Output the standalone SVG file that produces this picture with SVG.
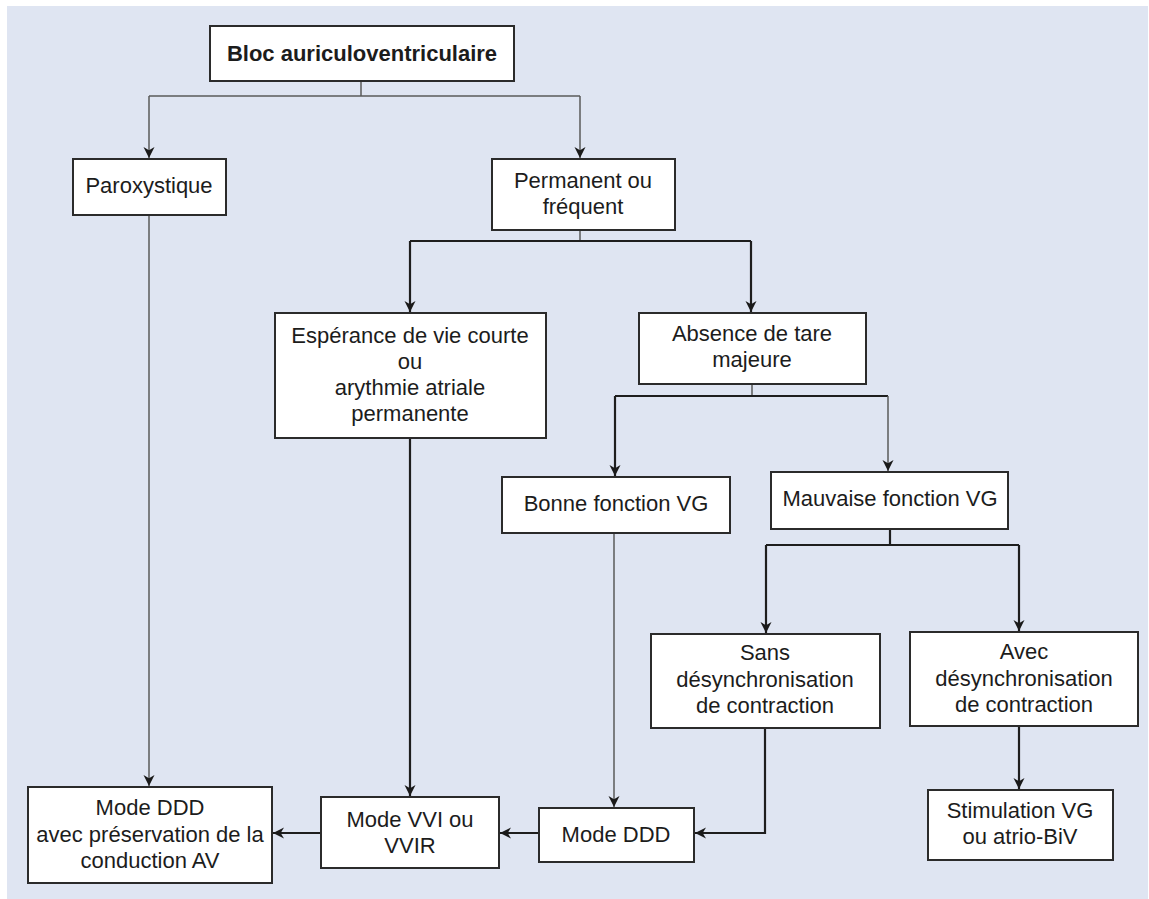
<svg xmlns="http://www.w3.org/2000/svg" width="1149" height="899" viewBox="0 0 1149 899">
<defs>
<style>
.box{fill:#ffffff;stroke:#2b2b2b;stroke-width:2}
text{font-family:"Liberation Sans",Arial,Helvetica,sans-serif;font-size:22px;fill:#1c1c1c;text-anchor:middle}
.b{font-weight:bold}
.g{fill:none;stroke:#5a5a5a;stroke-width:1.5}
.k{fill:none;stroke:#1e1e1e;stroke-width:2.2}
</style>
<marker id="ah" viewBox="0 0 10 10" refX="10" refY="5" markerWidth="11" markerHeight="12" markerUnits="userSpaceOnUse" orient="auto">
<path d="M0,0 L10,5 L0,10 L3,5 z" fill="#1a1a1a"/>
</marker>
</defs>
<rect x="7" y="6" width="1141" height="893" fill="#dfe5f2"/>

<g id="connectors">
<path class="g" d="M361,81 V96"/>
<path class="g" d="M149,96 H580"/>
<path class="g" d="M149,96 V158" marker-end="url(#ah)"/>
<path class="g" d="M580,96 V158" marker-end="url(#ah)"/>
<path class="g" d="M149,215 V786" marker-end="url(#ah)"/>
<path class="g" d="M580,230 V241"/>
<path class="k" d="M410,241 H751"/>
<path class="k" d="M410,241 V312" marker-end="url(#ah)"/>
<path class="k" d="M751,241 V312" marker-end="url(#ah)"/>
<path class="k" d="M410,438 V796" marker-end="url(#ah)"/>
<path class="g" d="M752,384 V396"/>
<path class="k" d="M615,396 H888"/>
<path class="k" d="M615,396 V476" marker-end="url(#ah)"/>
<path class="g" d="M888,396 V471" marker-end="url(#ah)"/>
<path class="g" d="M614,533 V807" marker-end="url(#ah)"/>
<path class="k" d="M890,529 V545"/>
<path class="k" d="M766,545 H1019"/>
<path class="k" d="M766,545 V633" marker-end="url(#ah)"/>
<path class="k" d="M1019,545 V631" marker-end="url(#ah)"/>
<path class="k" d="M1019,726 V789" marker-end="url(#ah)"/>
<path class="k" d="M765,728 V833 H695" marker-end="url(#ah)"/>
<path class="k" d="M539,833 H500" marker-end="url(#ah)"/>
<path class="k" d="M321,833 H273" marker-end="url(#ah)"/>
</g>

<g id="n-bloc">
<rect class="box" x="210" y="26" width="304" height="55"/>
<text class="b" x="362" y="61">Bloc auriculoventriculaire</text>
</g>
<g id="n-parox">
<rect class="box" x="73" y="159" width="153" height="56"/>
<text x="149" y="193">Paroxystique</text>
</g>
<g id="n-perm">
<rect class="box" x="492" y="159" width="183" height="71"/>
<text x="583" y="188">Permanent ou</text>
<text x="583" y="214">fréquent</text>
</g>
<g id="n-esp">
<rect class="box" x="275" y="313" width="271" height="125"/>
<text x="410" y="343">Espérance de vie courte</text>
<text x="410" y="369">ou</text>
<text x="410" y="395">arythmie atriale</text>
<text x="410" y="421">permanente</text>
</g>
<g id="n-abs">
<rect class="box" x="639" y="313" width="227" height="71"/>
<text x="752" y="341">Absence de tare</text>
<text x="752" y="367">majeure</text>
</g>
<g id="n-bonne">
<rect class="box" x="502" y="477" width="228" height="56"/>
<text x="616" y="511">Bonne fonction VG</text>
</g>
<g id="n-mauv">
<rect class="box" x="771" y="472" width="237" height="57"/>
<text x="890" y="506">Mauvaise fonction VG</text>
</g>
<g id="n-sans">
<rect class="box" x="651" y="634" width="229" height="94"/>
<text x="765" y="660">Sans</text>
<text x="765" y="687">désynchronisation</text>
<text x="765" y="713">de contraction</text>
</g>
<g id="n-avec">
<rect class="box" x="910" y="632" width="228" height="94"/>
<text x="1024" y="659">Avec</text>
<text x="1024" y="686">désynchronisation</text>
<text x="1024" y="712">de contraction</text>
</g>
<g id="n-stim">
<rect class="box" x="928" y="790" width="185" height="70"/>
<text x="1020" y="818">Stimulation VG</text>
<text x="1020" y="844">ou atrio-BiV</text>
</g>
<g id="n-ddd">
<rect class="box" x="539" y="808" width="155" height="54"/>
<text x="616" y="842">Mode DDD</text>
</g>
<g id="n-vvi">
<rect class="box" x="321" y="797" width="178" height="71"/>
<text x="410" y="827">Mode VVI ou</text>
<text x="410" y="853">VVIR</text>
</g>
<g id="n-dddav">
<rect class="box" x="28" y="787" width="244" height="96"/>
<text x="150" y="815">Mode DDD</text>
<text x="150" y="842">avec préservation de la</text>
<text x="150" y="868">conduction AV</text>
</g>
</svg>
